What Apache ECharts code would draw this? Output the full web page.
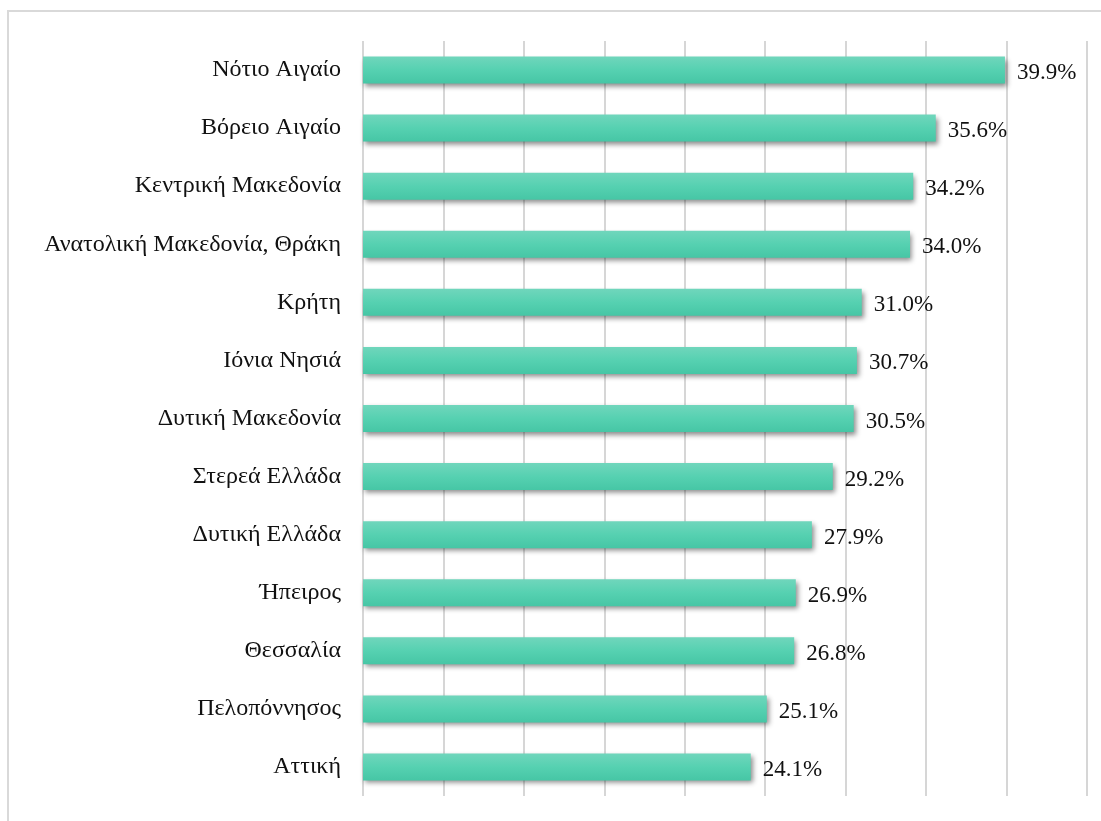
<!DOCTYPE html>
<html>
<head>
<meta charset="utf-8">
<script src="https://cdn.jsdelivr.net/npm/echarts@6/dist/echarts.min.js"></script>
<style>
  html, body { margin: 0; padding: 0; background: #fff; }
  #chart { width: 1101px; height: 821px; }
</style>
</head>
<body>
<div id="chart"></div>
<script>
const regions = [
  'Νότιο Αιγαίο',
  'Βόρειο Αιγαίο',
  'Κεντρική Μακεδονία',
  'Ανατολική Μακεδονία, Θράκη',
  'Κρήτη',
  'Ιόνια Νησιά',
  'Δυτική Μακεδονία',
  'Στερεά Ελλάδα',
  'Δυτική Ελλάδα',
  'Ήπειρος',
  'Θεσσαλία',
  'Πελοπόννησος',
  'Αττική'
]
const shares = [39.9, 35.6, 34.2, 34.0, 31.0, 30.7, 30.5, 29.2, 27.9, 26.9, 26.8, 25.1, 24.1]

const serif = '"Liberation Serif", "DejaVu Serif", serif'

const chart = echarts.init(document.getElementById('chart'))

chart.setOption({
  animation: false,
  backgroundColor: '#fff',
  graphic: [
    {
      type: 'rect',
      silent: true,
      shape: { x: 8, y: 11, width: 1200, height: 900 },
      style: { fill: 'none', stroke: '#d9d9d9', lineWidth: 2 }
    }
  ],
  grid: {
    left: 363,
    top: 41,
    width: 724,
    height: 755
  },
  xAxis: {
    type: 'value',
    min: 0,
    max: 45,
    interval: 5,
    axisLine: { show: false },
    axisTick: { show: false },
    axisLabel: { show: false },
    splitLine: {
      lineStyle: { color: '#d6d6d6', width: 2 }
    }
  },
  yAxis: {
    type: 'category',
    inverse: true,
    data: regions,
    axisLine: { show: false },
    axisTick: { show: false },
    axisLabel: {
      margin: 22,
      color: '#111',
      fontFamily: serif,
      fontSize: 24
    }
  },
  series: [
    {
      type: 'bar',
      data: shares,
      barWidth: 27,
      itemStyle: {
        color: new echarts.graphic.LinearGradient(0, 0, 0, 1, [
          { offset: 0, color: '#70d6bc' },
          { offset: 0.5, color: '#56d1b1' },
          { offset: 1, color: '#46c6a5' }
        ]),
        shadowColor: 'rgba(0, 0, 0, 0.45)',
        shadowBlur: 5,
        shadowOffsetX: 2,
        shadowOffsetY: 3
      },
      label: {
        show: true,
        position: 'right',
        distance: 12,
        color: '#111',
        fontFamily: serif,
        fontSize: 23,
        offset: [0, 3],
        formatter: (p) => p.value.toFixed(1) + '%'
      }
    }
  ]
})
</script>
</body>
</html>
